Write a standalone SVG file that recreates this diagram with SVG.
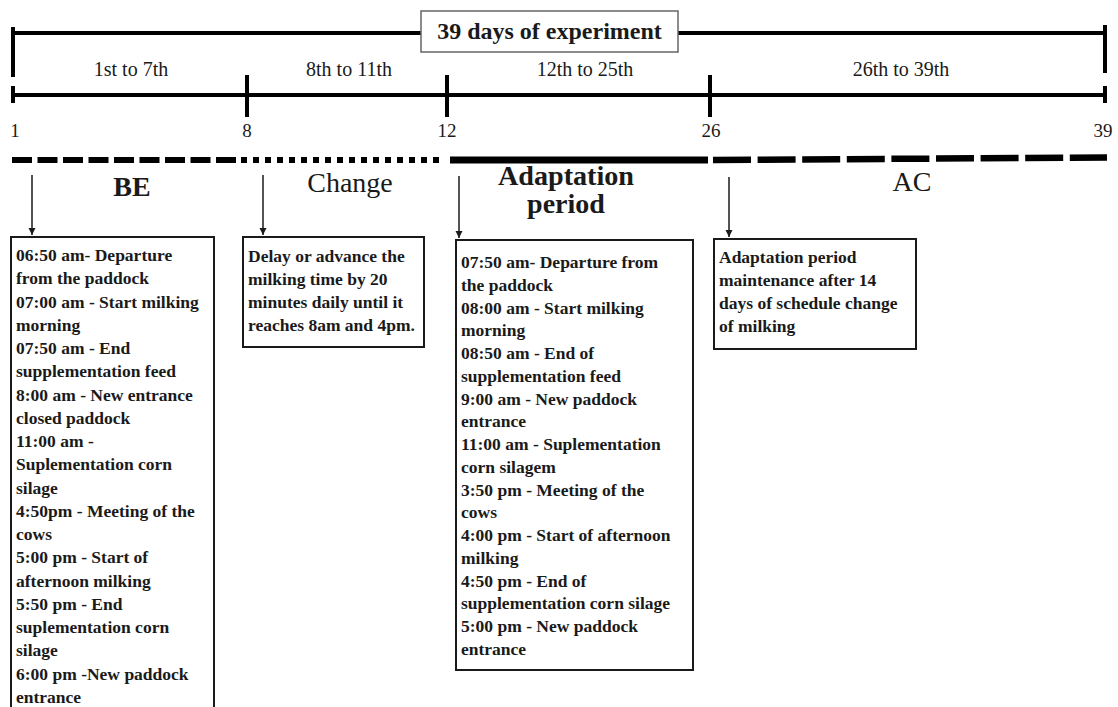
<svg xmlns="http://www.w3.org/2000/svg" width="1118" height="707" viewBox="0 0 1118 707">
<defs>
<style>
text { font-family: "Liberation Serif", "Times New Roman", serif; fill: #1a1a1a; }
.axis { stroke: #000; stroke-width: 4; fill: none; }
.lbl { font-size: 20px; text-anchor: middle; }
.num { font-size: 19px; text-anchor: middle; }
.head { font-size: 28px; text-anchor: middle; }
.box rect { fill: #fff; stroke: #1a1a1a; stroke-width: 2; }
.box text { font-size: 17.5px; font-weight: bold; }
.phase { fill: none; stroke: #000; }
.arrow { stroke: #1a1a1a; stroke-width: 1.5; marker-end: url(#ah); }
</style>
<marker id="ah" markerUnits="userSpaceOnUse" markerWidth="8" markerHeight="8" refX="7" refY="4" orient="auto">
<path d="M0,0.5 L7,4 L0,7.5 z" fill="#1a1a1a"/>
</marker>
</defs>
<rect width="1118" height="707" fill="#fff"/>

<g id="timeline">
<line class="axis" x1="13" y1="33" x2="1105" y2="33"/>
<line class="axis" x1="13" y1="27" x2="13" y2="77"/>
<line class="axis" x1="1105" y1="25" x2="1105" y2="73"/>
<line class="axis" x1="13" y1="95" x2="1105" y2="95"/>
<line class="axis" x1="13" y1="86" x2="13" y2="103"/>
<line class="axis" x1="1105" y1="86" x2="1105" y2="103"/>
<line class="axis" x1="247" y1="75" x2="247" y2="117"/>
<line class="axis" x1="447" y1="75" x2="447" y2="117"/>
<line class="axis" x1="710" y1="75" x2="710" y2="117"/>
<text class="lbl" x="131" y="76">1st to 7th</text>
<text class="lbl" x="349" y="76">8th to 11th</text>
<text class="lbl" x="585" y="76">12th to 25th</text>
<text class="lbl" x="901" y="76">26th to 39th</text>
<text class="num" x="15" y="137">1</text>
<text class="num" x="247" y="137">8</text>
<text class="num" x="447" y="137">12</text>
<text class="num" x="711" y="137">26</text>
<text class="num" x="1103" y="137">39</text>
</g>

<g id="title">
<rect x="421" y="11" width="257" height="41" fill="#fff" stroke="#666" stroke-width="1.5"/>
<text x="549.5" y="39" font-size="24" font-weight="bold" text-anchor="middle">39 days of experiment</text>
</g>

<g id="phases">
<line class="phase" x1="12" y1="160" x2="236" y2="160" stroke-width="6" stroke-dasharray="20 5.5"/>
<line class="phase" x1="241" y1="160" x2="439" y2="160" stroke-width="6" stroke-dasharray="6 6"/>
<line class="phase" x1="450" y1="160" x2="708" y2="160" stroke-width="7"/>
<line class="phase" x1="713" y1="160" x2="1107" y2="157.5" stroke-width="6.5" stroke-dasharray="38 6.6"/>
<text class="head" x="132" y="196" font-weight="bold">BE</text>
<text class="head" x="350" y="192" font-size="30">Change</text>
<text class="head" x="566" y="185" font-weight="bold" font-size="23" textLength="136" lengthAdjust="spacingAndGlyphs">Adaptation</text>
<text class="head" x="566" y="213" font-weight="bold" font-size="23">period</text>
<text class="head" x="912" y="191">AC</text>
</g>

<g id="connectors">
<line class="arrow" x1="32" y1="175" x2="32" y2="235"/>
<line class="arrow" x1="263" y1="175" x2="263" y2="235"/>
<line class="arrow" x1="459" y1="176" x2="459" y2="238"/>
<line class="arrow" x1="729" y1="177" x2="729" y2="237"/>
</g>

<g id="box-be" class="box">
<rect x="11" y="237" width="203" height="480"/>
<text x="16" y="261">06:50 am- Departure</text>
<text x="16" y="284.3">from the paddock</text>
<text x="16" y="307.5">07:00 am - Start milking</text>
<text x="16" y="330.8">morning</text>
<text x="16" y="354">07:50 am - End</text>
<text x="16" y="377.3">supplementation feed</text>
<text x="16" y="400.6">8:00 am - New entrance</text>
<text x="16" y="423.8">closed paddock</text>
<text x="16" y="447.1">11:00 am -</text>
<text x="16" y="470.3">Suplementation corn</text>
<text x="16" y="493.6">silage</text>
<text x="16" y="516.9">4:50pm - Meeting of the</text>
<text x="16" y="540.1">cows</text>
<text x="16" y="563.4">5:00 pm - Start of</text>
<text x="16" y="586.6">afternoon milking</text>
<text x="16" y="609.9">5:50 pm - End</text>
<text x="16" y="633.2">suplementation corn</text>
<text x="16" y="656.4">silage</text>
<text x="16" y="679.7">6:00 pm -New paddock</text>
<text x="16" y="703">entrance</text>
</g>

<g id="box-change" class="box">
<rect x="243" y="237" width="181" height="110"/>
<text x="248" y="262">Delay or advance the</text>
<text x="248" y="285">milking time by 20</text>
<text x="248" y="308">minutes daily until it</text>
<text x="248" y="331">reaches 8am and 4pm.</text>
</g>

<g id="box-adaptation" class="box">
<rect x="456" y="240" width="237" height="430"/>
<text x="461" y="268">07:50 am- Departure from</text>
<text x="461" y="290.8">the paddock</text>
<text x="461" y="313.5">08:00 am - Start milking</text>
<text x="461" y="336.3">morning</text>
<text x="461" y="359">08:50 am - End of</text>
<text x="461" y="381.8">supplementation feed</text>
<text x="461" y="404.6">9:00 am - New paddock</text>
<text x="461" y="427.3">entrance</text>
<text x="461" y="450.1">11:00 am - Suplementation</text>
<text x="461" y="472.8">corn silagem</text>
<text x="461" y="495.6">3:50 pm - Meeting of the</text>
<text x="461" y="518.4">cows</text>
<text x="461" y="541.1">4:00 pm - Start of afternoon</text>
<text x="461" y="563.9">milking</text>
<text x="461" y="586.6">4:50 pm - End of</text>
<text x="461" y="609.4">supplementation corn silage</text>
<text x="461" y="632.2">5:00 pm - New paddock</text>
<text x="461" y="655">entrance</text>
</g>

<g id="box-ac" class="box">
<rect x="714" y="239" width="202" height="110"/>
<text x="719" y="263">Adaptation period</text>
<text x="719" y="286">maintenance after 14</text>
<text x="719" y="309">days of schedule change</text>
<text x="719" y="332">of milking</text>
</g>
</svg>
